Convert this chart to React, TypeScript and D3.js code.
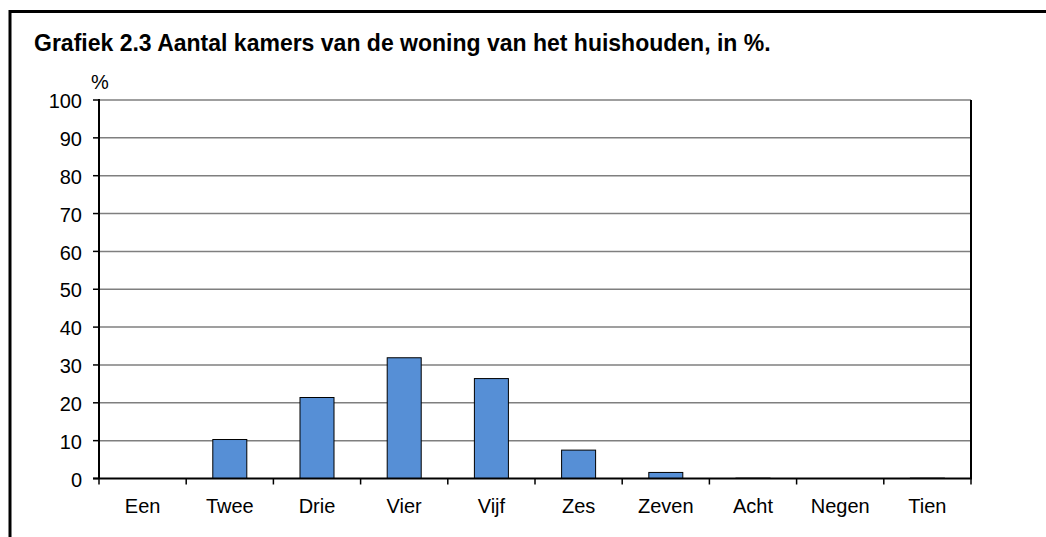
import * as d3 from "d3";

const categories = ["Een", "Twee", "Drie", "Vier", "Vijf", "Zes", "Zeven", "Acht", "Negen", "Tien"];
const shares = [0, 10.3, 21.4, 31.9, 26.4, 7.5, 1.6, 0.1, 0, 0.1];
const yTicks = [0, 10, 20, 30, 40, 50, 60, 70, 80, 90, 100];

const title = "Grafiek 2.3 Aantal kamers van de woning van het huishouden, in %.";

const W = 1046;
const H = 537;
const plot = { left: 99, top: 100, right: 971, bottom: 478.5 };
const font = "'Liberation Sans', Arial, sans-serif";

export default function App() {
  const x = d3
    .scaleBand<string>()
    .domain(categories)
    .range([plot.left, plot.right])
    .paddingInner(0.61)
    .paddingOuter(0.305);
  const band = d3.scaleBand<string>().domain(categories).range([plot.left, plot.right]);
  const y = d3.scaleLinear().domain([0, 100]).range([plot.bottom, plot.top]);

  const edges = categories.map((c) => band(c) ?? 0).concat([plot.right]);

  return (
    <svg
      width={W}
      height={H}
      style={{ position: "absolute", left: 0, top: 0, background: "#fff" }}
      fontFamily={font}
    >
      {/* outer frame, clipped at right and bottom */}
      <path d={`M10,${H + 5}V11.5H${W + 5}`} fill="none" stroke="#000" strokeWidth={3} />

      <text x={34} y={51} fontSize={23} fontWeight="bold" fill="#000">
        {title}
      </text>
      <text x={100} y={89} fontSize={20} textAnchor="middle" fill="#000">
        %
      </text>

      {/* gridlines */}
      {yTicks
        .filter((t) => t > 0)
        .map((t) => (
          <line
            key={t}
            x1={plot.left}
            x2={plot.right}
            y1={y(t)}
            y2={y(t)}
            stroke="#7f7f7f"
            strokeWidth={1.5}
          />
        ))}
      <line x1={plot.right} x2={plot.right} y1={plot.top} y2={plot.bottom} stroke="#000" strokeWidth={2} />

      {/* bars */}
      {categories.map((c, i) =>
        shares[i] > 0 ? (
          <rect
            key={c}
            x={x(c)}
            y={y(shares[i])}
            width={x.bandwidth()}
            height={plot.bottom - y(shares[i])}
            fill="#568fd6"
            stroke="#000"
            strokeWidth={1}
          />
        ) : null
      )}

      {/* y axis */}
      <line x1={plot.left} x2={plot.left} y1={plot.top - 1} y2={plot.bottom} stroke="#000" strokeWidth={2} />
      {yTicks.map((t) => (
        <g key={t}>
          <line x1={plot.left - 6} x2={plot.left} y1={y(t)} y2={y(t)} stroke="#000" strokeWidth={1.5} />
          <text x={82} y={y(t) + 1} dy="0.36em" fontSize={20} textAnchor="end" fill="#000">
            {t}
          </text>
        </g>
      ))}

      {/* x axis */}
      <line x1={plot.left - 6} x2={plot.right + 1} y1={plot.bottom} y2={plot.bottom} stroke="#000" strokeWidth={2} />
      {edges.map((e, i) => (
        <line key={i} x1={e} x2={e} y1={plot.bottom} y2={plot.bottom + 6} stroke="#000" strokeWidth={1.5} />
      ))}
      {categories.map((c) => (
        <text
          key={c}
          x={(band(c) ?? 0) + band.bandwidth() / 2}
          y={512.5}
          fontSize={20}
          textAnchor="middle"
          fill="#000"
        >
          {c}
        </text>
      ))}
    </svg>
  );
}
